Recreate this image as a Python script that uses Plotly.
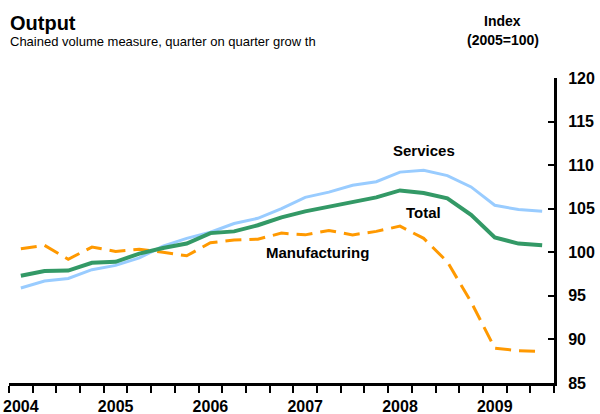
import plotly.graph_objects as go

quarters = [f"{y} Q{q}" for y in range(2004, 2010) for q in range(1, 5)][:23]
year_labels = [q.split()[0] if q.endswith("Q1") else "" for q in quarters]

total = [97.3, 97.85, 97.9, 98.8, 98.9, 99.85, 100.5, 101.0, 102.2, 102.4, 103.1, 104.0,
         104.7, 105.2, 105.7, 106.3, 107.1, 106.8, 106.2, 104.3, 101.7, 101.0, 100.8]
services = [95.9, 96.7, 97.0, 98.0, 98.5, 99.35, 100.7, 101.6, 102.3, 103.3, 103.9, 105.0,
            106.3, 106.9, 107.7, 108.1, 109.2, 109.4, 108.8, 107.5, 105.4, 104.9, 104.7]
manufacturing = [100.4, 100.8, 99.2, 100.6, 100.1, 100.35, 100.0, 99.6, 101.1, 101.4, 101.5, 102.2,
                 102.0, 102.5, 102.0, 102.4, 103.0, 101.6, 98.9, 94.3, 89.0, 88.7, 88.6]

FONT = "Liberation Sans, Arial, sans-serif"

fig = go.Figure()
fig.add_trace(go.Scatter(x=quarters, y=manufacturing, mode="lines", name="Manufacturing",
                         line=dict(color="#FF9900", width=3, dash="16px,8px")))
fig.add_trace(go.Scatter(x=quarters, y=services, mode="lines", name="Services",
                         line=dict(color="#99CCFF", width=3)))
fig.add_trace(go.Scatter(x=quarters, y=total, mode="lines", name="Total",
                         line=dict(color="#339966", width=4)))

fig.update_layout(
    width=600, height=414,
    margin=dict(l=9, r=46, t=78, b=31),
    paper_bgcolor="white", plot_bgcolor="white",
    showlegend=False,
    font=dict(family=FONT, color="black"),
    xaxis=dict(
        type="category", range=[-0.5, 22.5], automargin=False, tickangle=0,
        tickmode="array", tickvals=quarters, ticktext=year_labels,
        tickson="boundaries", ticks="outside", ticklen=7, tickwidth=2, tickcolor="black",
        showline=True, linecolor="black", linewidth=3,
        showgrid=False, zeroline=False, ticklabelstandoff=7,
        tickfont=dict(family=FONT, size=16, color="black", weight="bold"),
    ),
    yaxis=dict(
        side="right", range=[85, 120], dtick=5, tick0=85, automargin=False,
        ticks="inside", ticklen=6, tickwidth=2, tickcolor="black",
        showline=True, linecolor="black", linewidth=3,
        showgrid=False, zeroline=False,
        ticklabelstandoff=8,
        tickfont=dict(family=FONT, size=16, color="black", weight="bold"),
    ),
    annotations=[
        dict(text="<b>Output</b>", xref="paper", yref="paper", x=0.0, y=1.180,
             xanchor="left", yanchor="middle", showarrow=False, xshift=-1,
             font=dict(family=FONT, size=20, color="black")),
        dict(text="Chained volume measure, quarter on quarter grow th", xref="paper", yref="paper",
             x=0.0, y=1.1213, xanchor="left", yanchor="middle", showarrow=False, xshift=-1,
             font=dict(family=FONT, size=13, color="black")),
        dict(text="<b>Index</b>", xref="paper", yref="paper", x=0.906, y=1.187,
             xanchor="center", yanchor="middle", showarrow=False,
             font=dict(family=FONT, size=14, color="black")),
        dict(text="<b>(2005=100)</b>", xref="paper", yref="paper", x=0.906, y=1.1246,
             xanchor="center", yanchor="middle", showarrow=False,
             font=dict(family=FONT, size=14, color="black")),
        dict(text="<b>Services</b>", x=17, y=111.7, xref="x", yref="y", showarrow=False,
             font=dict(family=FONT, size=15, color="black")),
        dict(text="<b>Total</b>", x=17, y=104.6, xref="x", yref="y", showarrow=False,
             font=dict(family=FONT, size=15, color="black")),
        dict(text="<b>Manufacturing</b>", x=12.5, y=100.0, xref="x", yref="y", showarrow=False,
             font=dict(family=FONT, size=15, color="black")),
    ],
)

fig.write_html("out.html")
